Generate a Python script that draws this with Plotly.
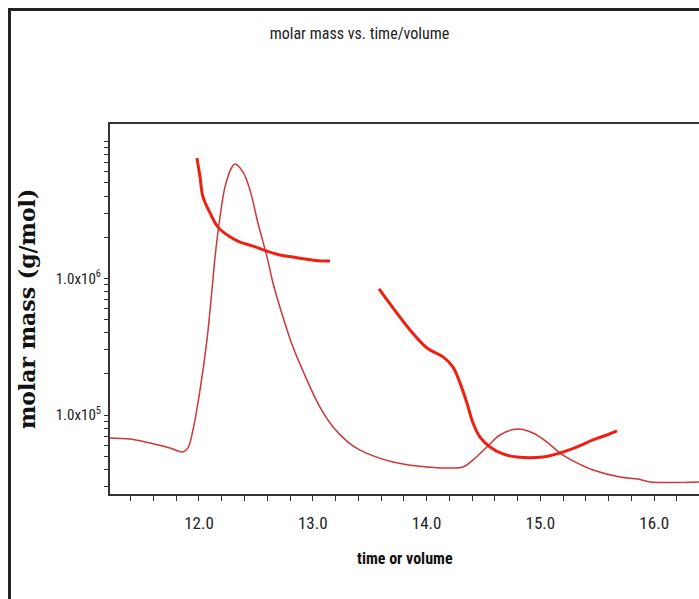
import plotly.graph_objects as go

# ---- data ----
# detector trace (thin line)
trace_x = [11.20, 11.394, 11.569, 11.745, 11.859, 11.903, 11.947, 12.009, 12.070, 12.114,
           12.141, 12.185, 12.228, 12.290, 12.316, 12.387, 12.448, 12.518, 12.598, 12.650,
           12.738, 12.826, 12.949, 13.063, 13.178, 13.309, 13.415, 13.705, 14.004, 14.320,
           14.408, 14.531, 14.645, 14.803, 14.935, 15.058, 15.172, 15.322, 15.462, 15.699,
           15.858, 15.963, 16.45]
trace_y = [6.80e4, 6.67e4, 6.24e4, 5.74e4, 5.36e4, 5.74e4, 7.77e4, 1.52e5, 3.54e5, 8.21e5,
           1.43e6, 2.81e6, 4.65e6, 6.52e6, 6.86e6, 5.99e6, 4.42e6, 2.54e6, 1.43e6, 9.25e5,
           5.21e5, 3.14e5, 1.80e5, 1.14e5, 8.17e4, 6.34e4, 5.54e4, 4.53e4, 4.17e4, 4.17e4,
           4.69e4, 5.84e4, 7.14e4, 7.91e4, 7.38e4, 6.34e4, 5.27e4, 4.46e4, 3.96e4, 3.52e4,
           3.40e4, 3.24e4, 3.24e4]

# molar mass, first peak (thick line)
mm1_x = [11.982, 12.009, 12.035, 12.097, 12.167, 12.272, 12.360, 12.475, 12.598, 12.712,
         12.826, 12.949, 13.063, 13.151]
mm1_y = [7.59e6, 5.51e6, 3.94e6, 3.01e6, 2.37e6, 2.01e6, 1.84e6, 1.72e6, 1.58e6, 1.48e6,
         1.43e6, 1.38e6, 1.34e6, 1.34e6]

# molar mass, second peak (thick line)
mm2_x = [13.582, 13.705, 13.854, 14.004, 14.144, 14.232, 14.294, 14.355, 14.408, 14.469,
         14.557, 14.671, 14.794, 15.023, 15.172, 15.322, 15.462, 15.585, 15.673]
mm2_y = [8.36e5, 6.07e5, 4.19e5, 3.09e5, 2.66e5, 2.24e5, 1.71e5, 1.22e5, 8.74e4, 6.90e4,
         5.84e4, 5.19e4, 4.93e4, 4.93e4, 5.27e4, 5.84e4, 6.57e4, 7.14e4, 7.64e4]

x_tickvals = [12.0, 13.0, 14.0, 15.0, 16.0]
x_ticktext = ["12.0", "13.0", "14.0", "15.0", "16.0"]
y_tickvals = [1e5, 1e6]
y_ticktext = ["1.0x10<sup>5</sup>", "1.0x10<sup>6</sup>"]
y_minor = [m * 10 ** e for e in (4, 5, 6) for m in range(2, 10)] + [1e7]

title_text = "molar mass vs. time/volume"
x_title = "time or volume"
y_title = "molar mass (g/mol)"

NARROW = "Liberation Sans Narrow, Arial Narrow, Roboto Condensed, Roboto, sans-serif"

# ---- figure ----
W, H = 699, 599
L, R, T, B = 110, 0, 124, 105
pw, ph = W - L - R, H - T - B

def px(xp):
    return (xp - L) / pw

def py(yp):
    return (H - B - yp) / ph

PX_PER_UNIT = 113.8
x0 = 11.218

fig = go.Figure()
fig.add_trace(go.Scatter(x=trace_x, y=trace_y, mode="lines", line_shape="spline",
                         line=dict(color="rgb(205,55,55)", width=1.5), showlegend=False))
fig.add_trace(go.Scatter(x=mm1_x, y=mm1_y, mode="lines", line_shape="spline",
                         line=dict(color="rgb(238,32,18)", width=3), showlegend=False))
fig.add_trace(go.Scatter(x=mm2_x, y=mm2_y, mode="lines", line_shape="spline",
                         line=dict(color="rgb(238,32,18)", width=3), showlegend=False))

fig.update_layout(
    width=W, height=H,
    margin=dict(l=L, r=R, t=T, b=B),
    paper_bgcolor="white", plot_bgcolor="white",
    title=dict(text=title_text, font=dict(family=NARROW, size=16, color="#222"),
               xref="paper", x=px(359.5), xanchor="center",
               yref="container", y=1 - 33 / H, yanchor="middle"),
    xaxis=dict(range=[x0, x0 + pw / PX_PER_UNIT],
               tickmode="array", tickvals=x_tickvals, ticktext=x_ticktext,
               ticks="outside", ticklen=5, tickwidth=1, tickcolor="#333",
               minor=dict(dtick=0.2, tick0=0, ticks="outside", ticklen=5, tickcolor="#333", showgrid=False),
               showline=True, linecolor="#333", linewidth=2, mirror=True,
               showgrid=False, zeroline=False,
               tickfont=dict(family=NARROW, size=17, color="#222"),
               ticklabelstandoff=8),
    yaxis=dict(type="log", range=[4.422, 7.129],
               tickmode="array", tickvals=y_tickvals, ticktext=y_ticktext,
               ticks="outside", ticklen=4, tickwidth=1, tickcolor="#333",
               minor=dict(tickmode="array", tickvals=y_minor, ticks="outside", ticklen=4,
                          tickcolor="#333", showgrid=False),
               showline=True, linecolor="#333", linewidth=2, mirror=False,
               showgrid=False, zeroline=False,
               tickfont=dict(family=NARROW, size=15, color="#222"),
               ticklabelstandoff=0),
    annotations=[
        dict(text=x_title, xref="paper", yref="paper", x=px(405), y=py(558),
             xanchor="center", yanchor="middle", showarrow=False,
             font=dict(family=NARROW, size=16, color="#111", weight="bold")),
        dict(text=y_title, xref="paper", yref="paper", x=px(27), y=py(309),
             xanchor="center", yanchor="middle", showarrow=False, textangle=-90,
             font=dict(family="DejaVu Serif, Liberation Serif, serif", size=22, color="#111", weight="bold")),
    ],
    shapes=[
        dict(type="rect", xref="paper", yref="paper",
             x0=px(9.5), x1=px(760), y0=py(650), y1=py(9.5),
             line=dict(color="#222", width=3), fillcolor="rgba(0,0,0,0)", layer="above"),
    ],
)

# remove the default 8px page margin so the 699x599 figure fills the window exactly
fig.write_html("out.html",
               config={"displayModeBar": False},
               post_script="document.body.style.margin='0';document.body.style.overflow='hidden';")
